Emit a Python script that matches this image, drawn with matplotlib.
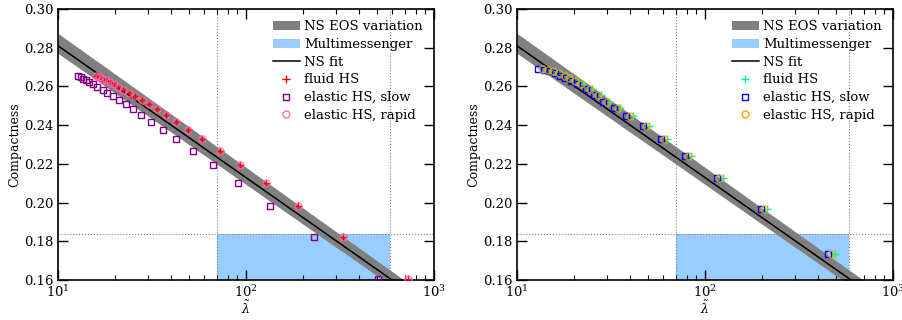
import matplotlib
matplotlib.use("Agg")
import matplotlib.pyplot as plt
from matplotlib.patches import Patch
from matplotlib.lines import Line2D
from matplotlib.ticker import LogLocator, NullFormatter, MultipleLocator

plt.rcParams['font.family'] = 'DejaVu Serif'
plt.rcParams['mathtext.fontset'] = 'dejavuserif'
plt.rcParams['font.size'] = 9

# --- NS universal relation ---
lam_fit = [10, 20, 50, 100, 200, 500, 1000]
c_fit = [0.281, 0.2605, 0.2334, 0.2129, 0.1924, 0.1653, 0.1448]
c_band_hi = [0.2874, 0.2666, 0.2390, 0.2182, 0.1973, 0.1698, 0.1490]
c_band_lo = [0.2771, 0.2567, 0.2298, 0.2094, 0.1890, 0.1621, 0.1417]

# multimessenger constraint
mm_lam = [70, 580]
mm_c_max = 0.184

# --- left panel ---
left_c = [0.2654, 0.2647, 0.2640, 0.2633, 0.2623, 0.2612, 0.2599, 0.2582, 0.2568,
          0.2551, 0.2530, 0.2509, 0.2483, 0.2454, 0.2418, 0.2376, 0.2328, 0.2268,
          0.2196, 0.2103, 0.1982, 0.1822, 0.1604]
left_fluid = [16.0, 16.6, 17.2, 17.9, 18.8, 19.8, 20.9, 22.3, 23.8, 25.6, 28.0,
              30.6, 33.5, 37.5, 42.4, 49.0, 58.6, 72.3, 92.9, 127.3, 189.8, 329, 730]
left_slow = [12.8, 13.2, 13.6, 14.1, 14.7, 15.4, 16.2, 17.3, 18.3, 19.5, 21.1,
             22.9, 25.1, 27.7, 31.3, 36.0, 42.6, 52.1, 66.6, 90.3, 134.2, 230, 504]
left_rapid = left_fluid

# --- right panel ---
right_c = [0.2690, 0.2685, 0.2678, 0.2668, 0.2656, 0.2642, 0.2628, 0.2612, 0.2588,
           0.2554, 0.2521, 0.2489, 0.2447, 0.2396, 0.2328, 0.2242, 0.2128, 0.1969, 0.1734]
right_slow = [13.0, 13.9, 14.8, 15.9, 17.0, 18.0, 19.3, 20.8, 23.2, 25.8, 28.7,
              32.9, 38.0, 46.6, 58.1, 78.3, 115.4, 198.6, 453]
right_rapid = [13.6, 14.6, 15.5, 16.7, 17.9, 18.9, 20.3, 21.8, 24.4, 27.1, 30.1,
               34.5, 39.9, 48.6, 60.5, 81.5, 119.2, 206.5, 468]
right_fluid = [14.0, 15.0, 16.0, 17.2, 18.4, 19.4, 20.8, 22.5, 25.1, 27.9, 31.0,
               35.5, 41.4, 50.3, 62.7, 84.6, 124.6, 214.5, 489]

panels = [
    dict(c=left_c, fluid=left_fluid, slow=left_slow, rapid=left_rapid,
         col_fluid='red', col_slow='purple', col_rapid='hotpink'),
    dict(c=right_c, fluid=right_fluid, slow=right_slow, rapid=right_rapid,
         col_fluid='springgreen', col_slow='blue', col_rapid='orange'),
]

fig = plt.figure(figsize=(9.02, 3.2), dpi=100)
lefts = [58 / 902, 517 / 902]

for left, p in zip(lefts, panels):
    ax = fig.add_axes([left, 40 / 320, 376 / 902, 271 / 320])
    ax.set_xscale('log')

    ax.fill_between(lam_fit, c_band_lo, c_band_hi, color='gray', lw=0, zorder=2)
    ax.fill_between(mm_lam, [0.0, 0.0], [mm_c_max, mm_c_max], color='#99ccff', lw=0, zorder=1)
    for x in mm_lam:
        ax.axvline(x, color='gray', ls=':', lw=0.8, zorder=1)
    ax.axhline(mm_c_max, color='gray', ls=':', lw=0.8, zorder=1)
    ax.plot(lam_fit, c_fit, color='black', lw=1.1, zorder=3)

    ax.plot(p['fluid'], p['c'], ls='none', marker='+', ms=6, mew=1.0,
            color=p['col_fluid'], zorder=4)
    ax.plot(p['slow'], p['c'], ls='none', marker='s', ms=5, mew=1.0,
            mfc='none', mec=p['col_slow'], zorder=5)
    ax.plot(p['rapid'], p['c'], ls='none', marker='o', ms=5, mew=1.0,
            mfc='none', mec=p['col_rapid'], alpha=0.8, zorder=5)

    ax.set_xlim(10, 1000)
    ax.set_ylim(0.16, 0.30)
    ax.yaxis.set_major_locator(MultipleLocator(0.02))
    ax.yaxis.set_major_formatter(plt.FormatStrFormatter('%.2f'))
    ax.xaxis.set_minor_locator(LogLocator(base=10, subs=range(2, 10)))
    ax.xaxis.set_minor_formatter(NullFormatter())
    ax.tick_params(which='both', direction='in', top=True, right=True, labelsize=9.5)
    ax.tick_params(which='major', length=7, width=1.0, pad=3)
    ax.tick_params(which='minor', length=3.5, width=0.8)
    ax.tick_params(axis='x', pad=3)
    for s in ax.spines.values():
        s.set_linewidth(1.2)

    ax.set_xlabel(r'$\tilde{\lambda}$', labelpad=0)
    ax.set_ylabel('Compactness', labelpad=2)

    handles = [
        Patch(facecolor='gray', edgecolor='none', label='NS EOS variation'),
        Patch(facecolor='#99ccff', edgecolor='none', label='Multimessenger'),
        Line2D([], [], color='black', lw=1.1, label='NS fit'),
        Line2D([], [], ls='none', marker='+', ms=6, mew=1.0, color=p['col_fluid'], label='fluid HS'),
        Line2D([], [], ls='none', marker='s', ms=5, mew=1.0, mfc='none', mec=p['col_slow'],
               label='elastic HS, slow'),
        Line2D([], [], ls='none', marker='o', ms=5, mew=1.0, mfc='none', mec=p['col_rapid'],
               label='elastic HS, rapid'),
    ]
    ax.legend(handles=handles, loc='upper right', frameon=False, fontsize=9.5,
              handlelength=2.0, handletextpad=0.35, labelspacing=0.36,
              borderaxespad=0.45)

fig.savefig('out.png', dpi=100)
